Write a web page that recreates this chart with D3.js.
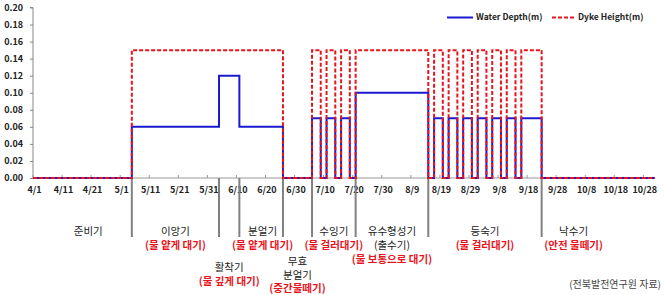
<!DOCTYPE html>
<meta charset="utf-8">
<body>
<script src="https://cdn.jsdelivr.net/npm/d3@7"></script>
<style>
    html, body {
        margin: 0;
        background: #fff;
    }
    text {
        font-family: "Noto Sans CJK KR", "Noto Sans", sans-serif;
    }
</style>
<script>
// step data: value holds from each date until the next one
var stepDates = ["4/1", "5/5", "6/4", "6/11", "6/26", "7/6", "7/9", "7/11", "7/14", "7/16", "7/19", "7/21",
    "8/15", "8/17", "8/20", "8/22", "8/25", "8/27", "8/30", "9/1", "9/4", "9/6", "9/9", "9/11", "9/14", "9/16",
    "9/23", "11/1"];
var depthValues = [0, 0.06, 0.12, 0.06, 0, 0.07, 0, 0.07, 0, 0.07, 0, 0.10,
    0, 0.07, 0, 0.07, 0, 0.07, 0, 0.07, 0, 0.07, 0, 0.07, 0, 0.07,
    0, 0];
var dykeValues = [0, 0.15, 0.15, 0.15, 0, 0.15, 0, 0.15, 0, 0.15, 0, 0.15,
    0, 0.15, 0, 0.15, 0, 0.15, 0, 0.15, 0, 0.15, 0, 0.15, 0, 0.15,
    0, 0];

var xTickLabels = ["4/1", "4/11", "4/21", "5/1", "5/11", "5/21", "5/31", "6/10", "6/20", "6/30", "7/10",
    "7/20", "7/30", "8/9", "8/19", "8/29", "9/8", "9/18", "9/28", "10/8", "10/18", "10/28"];
var yTicks = [0, 0.02, 0.04, 0.06, 0.08, 0.10, 0.12, 0.14, 0.16, 0.18, 0.20];

var stageBounds = ["5/5", "6/4", "6/11", "6/26", "7/6", "7/21", "8/15", "9/23"];
var stageNames = ["준비기", "이앙기", "활착기", "분얼기", "무효 분얼기", "수잉기", "유수형성기", "등숙기", "낙수기"];
var stageFrom = ["4/1", "5/5", "6/4", "6/11", "6/26", "7/6", "7/21", "8/15", "9/23"];
var stageTo = ["5/5", "6/4", "6/11", "6/26", "7/6", "7/21", "8/15", "9/23", "11/1"];
var stageNotes = [[], ["(물 얕게 대기)"], ["(물 깊게 대기)"], ["(물 얕게 대기)"], ["(중간물떼기)"],
    ["(물 걸러대기)"], ["(출수기)", "(물 보통으로 대기)"], ["(물 걸러대기)"], ["(안전 물떼기)"]];
var seriesNames = ["Water Depth(m)", "Dyke Height(m)"];
var sourceText = "(전북발전연구원  자료)";

var width = 666, height = 295;

function parseMD(s) {
    var p = s.split("/");
    return new Date(Date.UTC(2020, +p[0] - 1, +p[1]));
}
var halfDay = 12 * 3600 * 1000;

var x = d3.scaleUtc()
    .domain([parseMD("4/1"), parseMD("11/1")])
    .range([33, 655]);
var y = d3.scaleLinear()
    .domain([0, 0.2])
    .range([178, 7.5]);

var svg = d3.select("body").append("svg")
    .attr("width", width)
    .attr("height", height);

// y axis
var yAxis = svg.append("g")
    .attr("transform", "translate(33,0)")
    .call(d3.axisLeft(y).tickValues(yTicks).tickFormat(d3.format(".2f")).tickSize(3).tickPadding(7));
yAxis.select(".domain").attr("stroke", "#888").attr("d", "M-3," + y(0.2) + "H0V" + y(0));
yAxis.selectAll(".tick line").attr("stroke", "#888");
yAxis.selectAll(".tick text")
    .attr("fill", "#222")
    .style("font-size", "9px")
    .style("font-weight", "bold");

// x axis line + small tick marks
svg.append("line")
    .attr("x1", x.range()[0]).attr("x2", x.range()[1])
    .attr("y1", y(0)).attr("y2", y(0))
    .attr("stroke", "#999").attr("stroke-width", 1);

svg.selectAll(".xtick")
    .data(xTickLabels)
    .enter().append("line")
    .attr("class", "xtick")
    .attr("x1", function(d) { return x(parseMD(d)); })
    .attr("x2", function(d) { return x(parseMD(d)); })
    .attr("y1", y(0)).attr("y2", y(0) - 3)
    .attr("stroke", "#999");

svg.selectAll(".xlabel")
    .data(xTickLabels)
    .enter().append("text")
    .attr("class", "xlabel")
    .attr("x", function(d) { return x(new Date(+parseMD(d) + halfDay)); })
    .attr("y", 193)
    .attr("text-anchor", "middle")
    .attr("fill", "#222")
    .style("font-size", "9px")
    .style("font-weight", "bold")
    .text(function(d) { return d; });

// stage separators
svg.selectAll(".sep")
    .data(stageBounds)
    .enter().append("line")
    .attr("class", "sep")
    .attr("x1", function(d) { return x(parseMD(d)); })
    .attr("x2", function(d) { return x(parseMD(d)); })
    .attr("y1", y(0)).attr("y2", 237)
    .attr("stroke", "#808080")
    .attr("stroke-width", 2);

// series
var line = d3.line()
    .x(function(d) { return x(d.date); })
    .y(function(d) { return y(d.v); })
    .curve(d3.curveStepAfter);

var depth = stepDates.map(function(d, i) { return {date: parseMD(d), v: depthValues[i]}; });
var dyke = stepDates.map(function(d, i) { return {date: parseMD(d), v: dykeValues[i]}; });

svg.append("path")
    .datum(depth)
    .attr("d", line)
    .attr("fill", "none")
    .attr("stroke", "#1a1ad0")
    .attr("stroke-width", 2);

svg.append("path")
    .datum(dyke)
    .attr("d", line)
    .attr("fill", "none")
    .attr("stroke", "#e8141c")
    .attr("stroke-width", 2)
    .attr("stroke-dasharray", "4,2");

// legend
var legend = svg.append("g");
legend.append("line")
    .attr("x1", 447).attr("x2", 473).attr("y1", 17.5).attr("y2", 17.5)
    .attr("stroke", "#1a1ad0").attr("stroke-width", 2);
legend.append("text")
    .attr("x", 476).attr("y", 17.5).attr("dy", "0.35em")
    .attr("fill", "#222").style("font-size", "8.5px").style("font-weight", "bold")
    .text(seriesNames[0]);
legend.append("line")
    .attr("x1", 552).attr("x2", 575).attr("y1", 17.5).attr("y2", 17.5)
    .attr("stroke", "#e8141c").attr("stroke-width", 2).attr("stroke-dasharray", "4,2");
legend.append("text")
    .attr("x", 578).attr("y", 17.5).attr("dy", "0.35em")
    .attr("fill", "#222").style("font-size", "8.5px").style("font-weight", "bold")
    .text(seriesNames[1]);

// stage labels: y of each text line per stage
var labelRows = [
    [231.5],
    [231.5, 245.5],
    [267, 281],
    [231.5, 245.5],
    [261, 275, 288.5],
    [231.5, 245.5],
    [231.5, 245.5, 259.5],
    [231.5, 245.5],
    [231.5, 245.5]
];
var labelAt = {"준비기": "4/20", "분얼기": "6/19", "낙수기": "10/4"};

stageNames.forEach(function(name, i) {
    var cx = labelAt[name] ? x(parseMD(labelAt[name]))
        : (x(parseMD(stageFrom[i])) + x(parseMD(stageTo[i]))) / 2;
    var lines = name.indexOf(" ") > 0 ? name.split(" ") : [name];
    var rows = labelRows[i];
    var k = 0;
    lines.forEach(function(t) {
        svg.append("text")
            .attr("x", cx).attr("y", rows[k++]).attr("dy", "0.35em")
            .attr("text-anchor", "middle")
            .attr("fill", "#222")
            .style("font-size", "10.5px")
            .text(t);
    });
    stageNotes[i].forEach(function(t) {
        var red = t !== "(출수기)";
        svg.append("text")
            .attr("x", cx).attr("y", rows[k++]).attr("dy", "0.35em")
            .attr("text-anchor", "middle")
            .attr("fill", red ? "#e8141c" : "#222")
            .style("font-size", "10.5px")
            .style("font-weight", red ? "bold" : "normal")
            .text(t);
    });
});

svg.append("text")
    .attr("x", 661).attr("y", 284.5).attr("dy", "0.35em")
    .attr("text-anchor", "end")
    .attr("fill", "#444")
    .style("font-size", "10px")
    .text(sourceText);
</script>
